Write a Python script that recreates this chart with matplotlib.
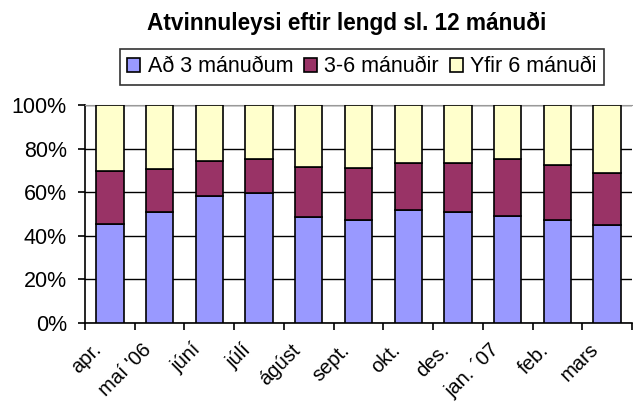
import matplotlib
matplotlib.use("Agg")
import matplotlib.pyplot as plt
import matplotlib.transforms as mtransforms
import numpy as np

plt.rcParams['font.family'] = ['Liberation Sans', 'DejaVu Sans']

months = ["apr.", "maí '06", "júní", "júlí", "ágúst", "sept.", "okt.", "des.", "jan. ´07", "feb.", "mars"]
series_names = ["Að 3 mánuðum", "3-6 mánuðir", "Yfir 6 mánuði"]
upto3 = [45.6, 51.1, 58.4, 59.5, 48.5, 47.4, 52.0, 51.1, 49.2, 47.4, 44.8]
m3to6 = [24.0, 19.4, 15.9, 15.6, 22.9, 23.9, 21.2, 22.1, 25.9, 24.9, 23.9]
over6 = [30.4, 29.5, 25.7, 24.9, 28.6, 28.7, 26.8, 26.8, 24.9, 27.7, 31.3]
colors = ["#9999FF", "#993366", "#FFFFCC"]

fig = plt.figure(figsize=(6.33, 4.03), dpi=100)
ax = fig.add_axes([85/633, 1-323/403, (632-85)/633, (323-105)/403])

x = np.arange(len(months))
bottom = np.zeros(len(months))
for vals, c, name in zip([upto3, m3to6, over6], colors, series_names):
    ax.bar(x, vals, width=0.55, bottom=bottom, color=c, edgecolor="black", linewidth=1.2, label=name, zorder=3)
    bottom += np.array(vals)

ax.set_xlim(-0.5, len(months)-0.5)
ax.set_ylim(0, 100)
ax.set_yticks(np.arange(0, 101, 20))
ax.set_yticklabels([f"{v}%" for v in range(0, 101, 20)], fontsize=15.5)
ax.yaxis.grid(True, color="black", linewidth=1, zorder=0)
ax.set_axisbelow(True)

ax.set_xticks(x)
ax.set_xticklabels(months, rotation=45, ha="right", rotation_mode="anchor", fontsize=14.5)
ax.tick_params(axis="x", which="major", length=0, pad=8)
offset = mtransforms.ScaledTranslation(-0.18, -0.06, fig.dpi_scale_trans)
for lbl in ax.get_xticklabels():
    lbl.set_transform(lbl.get_transform() + offset)
ax.set_xticks(np.arange(-0.5, len(months), 1), minor=True)
ax.tick_params(axis="x", which="minor", length=5, width=1.2, direction="out")
ax.tick_params(axis="y", length=5, width=1.2, direction="out", pad=8)

for s in ["left", "bottom"]:
    ax.spines[s].set_color("black")
    ax.spines[s].set_linewidth(1.2)
ax.spines["top"].set_color("#999999")
ax.spines["right"].set_visible(False)

fig.text(0.548, 1-23/403, "Atvinnuleysi eftir lengd sl. 12 mánuði", ha="center", va="center",
         fontsize=16.3, fontweight="bold")

leg = fig.legend(loc="center", bbox_to_anchor=(362/633, 1-67/403), ncol=3, fontsize=15.5,
                 frameon=True, fancybox=False, edgecolor="black", handlelength=0.6, handleheight=0.6,
                 handletextpad=0.35, columnspacing=0.5, borderpad=0.35)
leg.get_frame().set_linewidth(1.2)

fig.savefig("out.png", dpi=100)
